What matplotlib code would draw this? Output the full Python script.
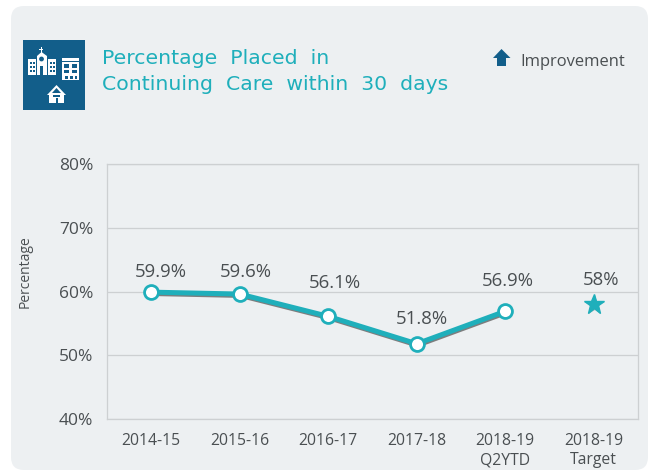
import matplotlib
matplotlib.use("Agg")
import matplotlib.pyplot as plt
from matplotlib.patches import FancyBboxPatch, Rectangle, Polygon, Circle
import matplotlib.patheffects as pe

categories = ["2014-15", "2015-16", "2016-17", "2017-18", "2018-19\nQ2YTD", "2018-19\nTarget"]
actual = [59.9, 59.6, 56.1, 51.8, 56.9]
actual_labels = ["59.9%", "59.6%", "56.1%", "51.8%", "56.9%"]
target = [58]
target_labels = ["58%"]
y_ticks = [40, 50, 60, 70, 80]
y_tick_labels = ["40%", "50%", "60%", "70%", "80%"]
title_lines = ["Percentage  Placed  in", "Continuing  Care  within  30  days"]

W, H = 652, 470
TEAL = "#1FAFBB"
NAVY = "#125E8A"
TEXT = "#4A4F52"
GRID = "#CDD0D2"
CARD = "#EDF0F2"
FONT = ["Open Sans", "DejaVu Sans"]

fig = plt.figure(figsize=(W / 100, H / 100), dpi=100, facecolor="white")

# Overlay in pixel coordinates for the card, icon and legend key
bg = fig.add_axes([0, 0, 1, 1], zorder=0)
bg.set_xlim(0, W)
bg.set_ylim(H, 0)
bg.axis("off")
bg.add_patch(FancyBboxPatch((11, 6), 637, 464, boxstyle="round,pad=0,rounding_size=13",
                            fc=CARD, ec="none"))
bg.add_patch(Rectangle((23, 40), 62, 70, fc=NAVY, ec="none"))


def block(x, y, w, h, fc="white"):
    bg.add_patch(Rectangle((x, y), w, h, fc=fc, ec="none"))


# hospital
block(28, 59, 8, 16)
block(37, 56, 10, 19)
block(48, 59, 8, 16)
block(40.5, 47, 1, 8)
block(39, 49, 4, 1)
bg.add_patch(Polygon([[37, 56], [41.5, 52], [47, 56]], fc="white", ec="none"))
bg.add_patch(Circle((41.5, 59), 2.4, fc=NAVY, ec="none"))
block(40.3, 66, 2.5, 9, NAVY)
for wx in (30, 33, 50, 53):
    for wy in (62, 66, 70):
        block(wx, wy, 1.8, 2, NAVY)
# right building
block(62, 58, 17, 22)
block(62, 61, 17, 1, NAVY)
for wx in (64, 72):
    block(wx, 64, 5, 4, NAVY)
    block(wx, 70, 5, 3, NAVY)
block(65, 76, 3, 3, NAVY)
block(70, 76, 3, 3, NAVY)
block(75, 76, 2, 3, NAVY)
# house
bg.add_patch(Polygon([[47, 95], [56.5, 85], [66, 95]], fc="white", ec="none"))
bg.add_patch(Polygon([[52, 93], [56.5, 88], [61, 93]], fc=NAVY, ec="none"))
block(49, 95, 15, 8)
block(53, 95, 7, 2, NAVY)
block(55.5, 98, 2, 5, NAVY)

# Legend arrow
bg.add_patch(Polygon([[501.5, 49], [510.5, 58], [506, 58], [506, 66], [497, 66], [497, 58], [493, 58]],
                     fc=NAVY, ec="none"))
bg.text(520, 61.5, "Improvement", fontsize=11.9, color=TEXT, va="center", ha="left", family=FONT)

for line, yy in zip(title_lines, [58, 84]):
    bg.text(102, yy, line, fontsize=14.7, color=TEAL, va="center", ha="left", family="DejaVu Sans")

# Chart
ax = fig.add_axes([107 / W, 1 - 419 / H, (638 - 107) / W, (419 - 164) / H], zorder=1)
ax.patch.set_alpha(0)
xs = list(range(len(actual)))
tx = [len(actual)]
ax.set_xlim(-0.5, 5.5)
ax.set_ylim(40, 80)
ax.set_yticks(y_ticks, y_tick_labels)
ax.set_xticks(range(len(categories)), categories)
ax.yaxis.grid(True, color=GRID, lw=0.9)
ax.set_axisbelow(True)
ax.tick_params(length=0)
ax.tick_params(axis="x", labelsize=11.3, labelcolor=TEXT, pad=10)
ax.tick_params(axis="y", labelsize=12.5, labelcolor=TEXT, pad=10)
for lab in ax.get_xticklabels() + ax.get_yticklabels():
    lab.set_family(FONT)
for lab in ax.get_xticklabels():
    lab.set_linespacing(1.28)
for s in ax.spines.values():
    s.set_color(GRID)
    s.set_linewidth(0.9)
ax.set_ylabel("Percentage", fontsize=10, color=TEXT, family=FONT)
ax.yaxis.set_label_coords(-0.141, 0.576)

shadow = [pe.SimpleLineShadow(offset=(0.5, -1.0), shadow_color="#333333", alpha=0.6), pe.Normal()]
ax.plot(xs, actual, color=TEAL, lw=3.6, solid_capstyle="round", path_effects=shadow, zorder=3)
ax.plot(xs, actual, ls="none", marker="o", ms=10, mfc="white", mec=TEAL, mew=2, zorder=4)
ax.plot(tx, target, ls="none", marker="*", ms=15, mfc=TEAL, mec=TEAL, zorder=4,
        path_effects=[pe.SimplePatchShadow(offset=(0.6, -1), alpha=0.35), pe.Normal()])

# Label offsets from the marker, in pixels
label_dx = [10, 6, 7, 5, 3]
label_dy = [20, 22, 33, 25, 30]
for x, v, t, dx, dy in zip(xs, actual, actual_labels, label_dx, label_dy):
    ax.annotate(t, (x, v), xytext=(dx * 0.72, dy * 0.72), textcoords="offset points",
                ha="center", va="center", fontsize=13.4, color=TEXT, family=FONT, zorder=5)
for x, v, t in zip(tx, target, target_labels):
    ax.annotate(t, (x, v), xytext=(7 * 0.72, 24 * 0.72), textcoords="offset points",
                ha="center", va="center", fontsize=13.4, color=TEXT, family=FONT, zorder=5)

fig.savefig("out.png", dpi=100, facecolor="white")
